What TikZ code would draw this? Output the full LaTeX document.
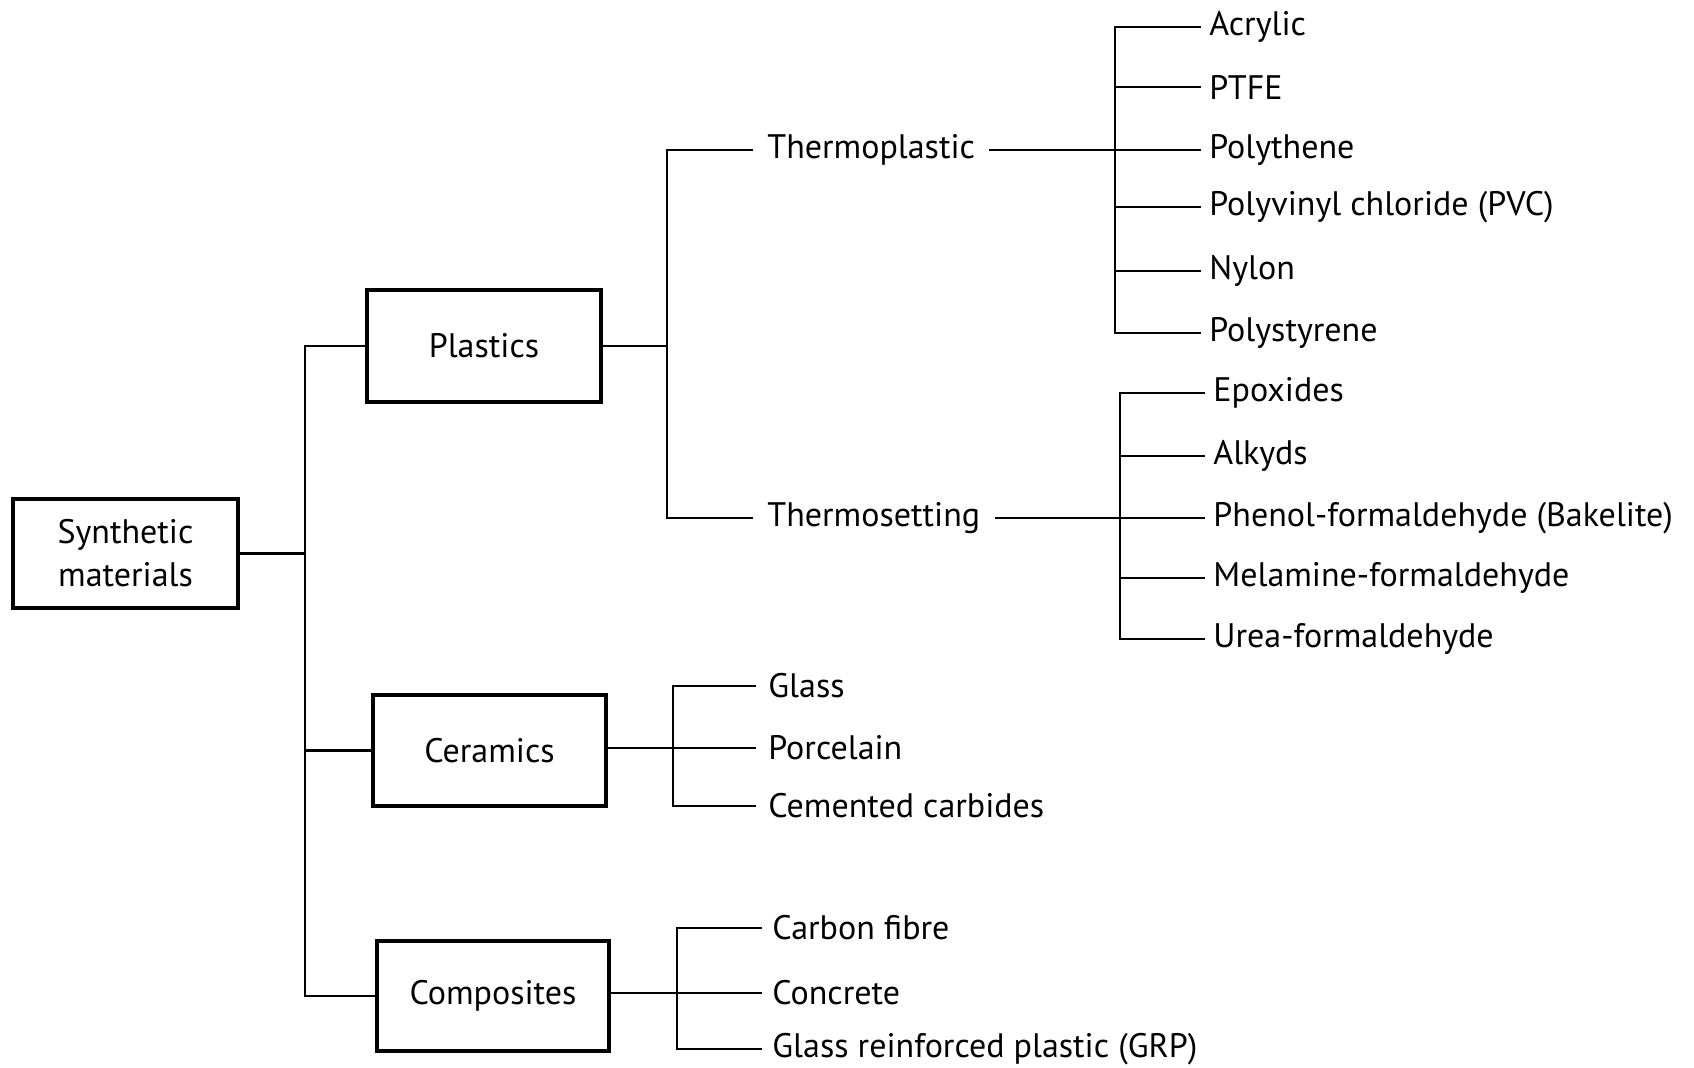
\documentclass[tikz,border=0pt]{standalone}
\usepackage{fontspec}
\setmainfont{PT Sans}
\begin{document}
\begin{tikzpicture}[x=0.5pt,y=-0.5pt,
  every node/.style={font=\fontsize{17}{21.5}\selectfont},
  box/.style={draw,line width=1.6pt,align=center,inner sep=0pt},
  mid/.style={anchor=west,inner ysep=0pt,inner xsep=7pt},
  leaf/.style={anchor=west,inner ysep=0pt,inner xsep=4pt},
  conn/.style={line width=1.1pt}]
\useasboundingbox (0,0) rectangle (1694,1067);
% boxes
\node[box,minimum width=112.5pt,minimum height=54.5pt] (synth) at (125.5,553.5) {Synthetic\\materials};
\node[box,minimum width=117pt,minimum height=56pt] (plastics) at (484,346) {Plastics};
\node[box,minimum width=116.5pt,minimum height=55.5pt] (ceramics) at (489.5,750.5) {Ceramics};
\node[box,minimum width=116pt,minimum height=55pt] (composites) at (493,996) {Composites};
% trunk
\coordinate (tj) at (305,553.5);
\draw[conn] (synth.east) -- (tj);
\draw[conn] (plastics.west) -- (plastics.west -| tj) -- (composites.west -| tj) -- (composites.west);
\draw[conn] (ceramics.west) -- (ceramics.west -| tj);
% plastics
\node[mid] (tp) at (753,150) {Thermoplastic};
\node[mid] (ts) at (753,518) {Thermosetting};
\coordinate (pj) at (667,346);
\draw[conn] (plastics.east) -- (pj);
\draw[conn] (tp.west) -- (tp.west -| pj) -- (ts.west -| pj) -- (ts.west);
% thermoplastic leaves
\coordinate (tpj) at (1115,150);
\node[leaf] (acr) at (1201,27) {Acrylic};
\node[leaf] (ptfe) at (1201,87) {PTFE};
\node[leaf] (pth) at (1201,150) {Polythene};
\node[leaf] (pvc) at (1201,207) {Polyvinyl chloride (PVC)};
\node[leaf] (nyl) at (1201,271) {Nylon};
\node[leaf] (pst) at (1201,333) {Polystyrene};
\draw[conn] (tp.east) -- (pth.west);
\draw[conn] (acr.west) -- (acr.west -| tpj) -- (pst.west -| tpj) -- (pst.west);
\foreach \n in {ptfe,pvc,nyl} \draw[conn] (\n.west) -- (\n.west -| tpj);
% thermosetting leaves
\coordinate (tsj) at (1120,518);
\node[leaf] (epo) at (1205,393) {Epoxides};
\node[leaf] (alk) at (1205,456) {Alkyds};
\node[leaf] (phe) at (1205,518) {Phenol-formaldehyde (Bakelite)};
\node[leaf] (mel) at (1205,578) {Melamine-formaldehyde};
\node[leaf] (ure) at (1205,639) {Urea-formaldehyde};
\draw[conn] (ts.east) -- (phe.west);
\draw[conn] (epo.west) -- (epo.west -| tsj) -- (ure.west -| tsj) -- (ure.west);
\foreach \n in {alk,mel} \draw[conn] (\n.west) -- (\n.west -| tsj);
% ceramics leaves
\coordinate (cj) at (673,748);
\node[leaf,inner xsep=6pt] (gla) at (756,686) {Glass};
\node[leaf,inner xsep=6pt] (por) at (756,748) {Porcelain};
\node[leaf,inner xsep=6pt] (cem) at (756,806) {Cemented carbides};
\draw[conn] (ceramics.east |- por.west) -- (por.west);
\draw[conn] (gla.west) -- (gla.west -| cj) -- (cem.west -| cj) -- (cem.west);
% composites leaves
\coordinate (kj) at (677,993);
\node[leaf,inner xsep=5pt] (cf) at (762,928) {Carbon fibre};
\node[leaf,inner xsep=5pt] (con) at (762,993) {Concrete};
\node[leaf,inner xsep=5pt] (grp) at (762,1049) {Glass reinforced plastic (GRP)};
\draw[conn] (composites.east |- con.west) -- (con.west);
\draw[conn] (cf.west) -- (cf.west -| kj) -- (grp.west -| kj) -- (grp.west);
\end{tikzpicture}
\end{document}
